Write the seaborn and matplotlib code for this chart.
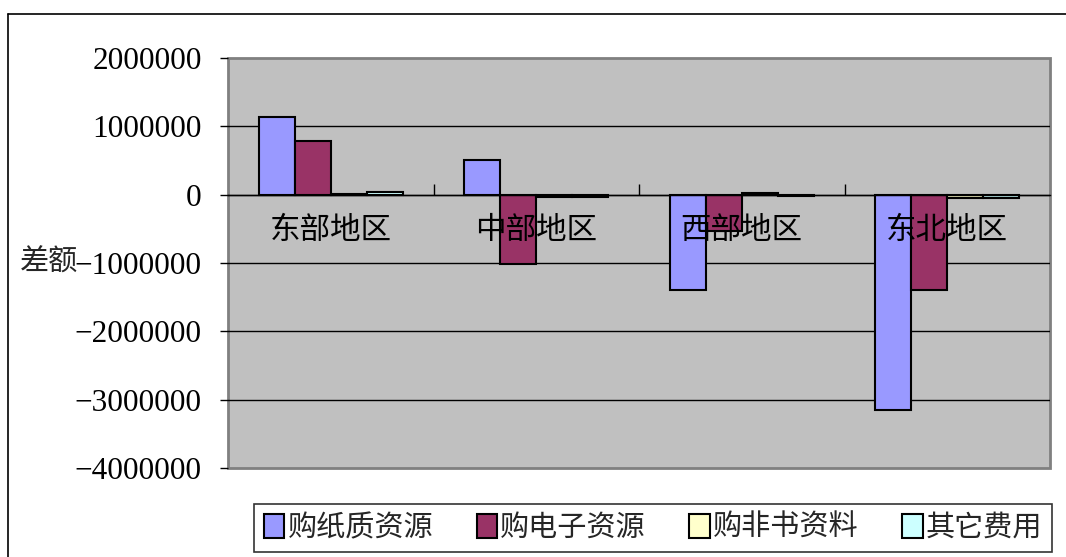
import pandas as pd
import matplotlib.pyplot as plt
import matplotlib.ticker as mticker
from matplotlib.lines import Line2D
import seaborn as sns

REGIONS = ['东部地区', '中部地区', '西部地区', '东北地区']
SERIES = ['购纸质资源', '购电子资源', '购非书资料', '其它费用']
COLORS = ['#9999FF', '#993366', '#FFFFCC', '#CCFFFF']

PAPER = [1140000, 500000, -1400000, -3150000]
DIGITAL = [790000, -1020000, -530000, -1400000]
NONBOOK = [5000, -40000, 30000, -45000]
OTHER = [40000, -30000, -25000, -50000]

Y_TICKS = [2000000, 1000000, 0, -1000000, -2000000, -3000000, -4000000]


def build_frame():
    rows = []
    for name, vals in zip(SERIES, [PAPER, DIGITAL, NONBOOK, OTHER]):
        for region, v in zip(REGIONS, vals):
            rows.append({'region': region, 'series': name, 'value': v})
    return pd.DataFrame(rows)


def fmt(v, pos):
    s = f'{int(abs(v))}'
    return '\u2212' + s if v < 0 else s


def main():
    df = build_frame()
    sns.set_theme(style='white')
    plt.rcParams['font.family'] = ['Liberation Serif', 'Noto Sans CJK SC']

    fig = plt.figure(figsize=(10.66, 5.57), dpi=100)
    ax = fig.add_axes([228 / 1066, 1 - 468 / 557, 822 / 1066, 410 / 557])
    ax.set_facecolor('#C0C0C0')

    sns.barplot(data=df, x='region', y='value', hue='series',
                order=REGIONS, hue_order=SERIES,
                palette=dict(zip(SERIES, COLORS)), width=0.7,
                edgecolor='black', linewidth=1.5, errorbar=None,
                saturation=1, legend=False, ax=ax)
    for bar in ax.patches:
        bar.set_zorder(2)

    ax.set_ylim(-4000000, 2000000)
    ax.set_xlim(-0.5, len(REGIONS) - 0.5)
    ax.set_yticks(Y_TICKS)
    ax.yaxis.set_major_formatter(mticker.FuncFormatter(fmt))
    ax.tick_params(axis='y', direction='out', length=6, width=1,
                   labelsize=22.5, pad=13, colors='black', left=True)
    for y in Y_TICKS[1:-1]:
        ax.axhline(y, color='black', lw=1, zorder=0.5)

    # category axis crosses at zero
    ax.set_axisbelow(False)
    for s in ['top', 'right', 'left']:
        ax.spines[s].set_visible(False)
    ax.spines['bottom'].set_position(('data', 0))
    ax.spines['bottom'].set_color('black')
    ax.spines['bottom'].set_linewidth(1)
    ax.set_xticks([0.5, 1.5, 2.5], minor=False)
    ax.xaxis.set_major_formatter(mticker.NullFormatter())
    ax.set_xticks(range(len(REGIONS)), minor=True)
    ax.set_xticklabels(REGIONS, minor=True)
    ax.tick_params(axis='x', which='major', direction='in', length=8,
                   width=1, bottom=True, colors='black')
    ax.tick_params(axis='x', which='minor', length=0, labelsize=22,
                   pad=16, colors='black')
    ax.patch.set_edgecolor('#808080')
    ax.patch.set_linewidth(2)

    ax.set_xlabel('')
    ax.set_ylabel('')
    fig.text(20 / 1066, 1 - 263 / 557, '差额', fontsize=21, va='center',
             ha='left')

    # outer chart frame
    fig.add_artist(Line2D([8 / 1066, 1], [1 - 14 / 557] * 2,
                          color='black', lw=1.2, transform=fig.transFigure))
    fig.add_artist(Line2D([8 / 1066] * 2, [0, 1 - 14 / 557],
                          color='black', lw=1.2, transform=fig.transFigure))

    handles = [plt.Rectangle((0, 0), 1, 1, facecolor=c, edgecolor='black',
                             linewidth=1.5) for c in COLORS]
    leg = fig.legend(handles, SERIES, loc='center',
                     bbox_to_anchor=(653 / 1066, 1 - 528 / 557),
                     ncol=4, fontsize=21, frameon=True, fancybox=False,
                     handlelength=0.7, handleheight=0.9, handletextpad=0.1,
                     columnspacing=1.5, borderpad=0.35)
    leg.get_frame().set_edgecolor('black')
    leg.get_frame().set_linewidth(1.2)

    fig.savefig('out.png', dpi=100)


if __name__ == '__main__':
    main()
